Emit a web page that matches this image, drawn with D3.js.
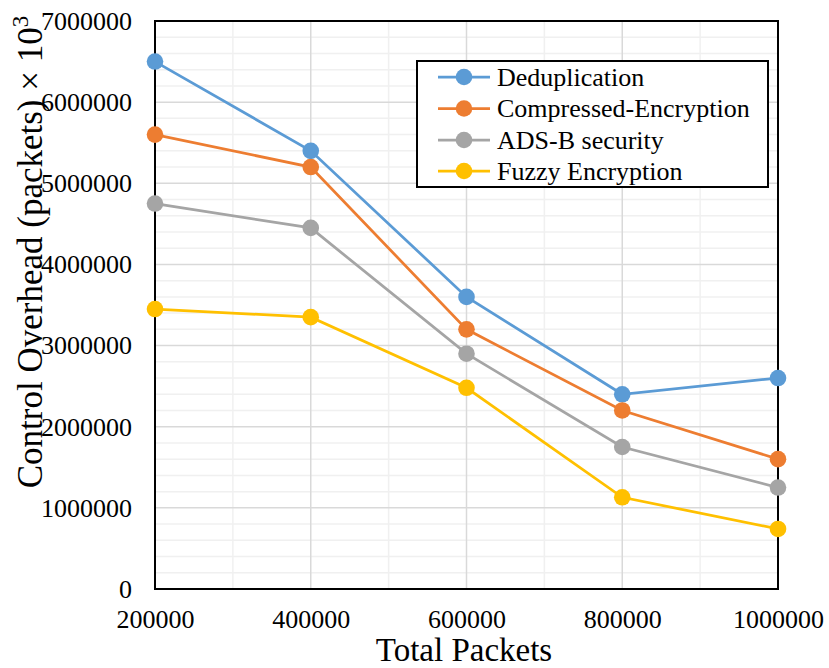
<!DOCTYPE html>
<html><head><meta charset="utf-8">
<script src="https://cdn.jsdelivr.net/npm/d3@7"></script>
<style>body{margin:0;background:#fff}svg{display:block}text{font-family:"Liberation Serif","Times New Roman",serif;fill:#000}</style>
</head><body>
<svg id="c" width="829" height="668"></svg>
<script>
const xValues = [200000, 400000, 600000, 800000, 1000000];
const dedup = [6500000, 5400000, 3600000, 2400000, 2600000];
const compressed = [5600000, 5200000, 3200000, 2200000, 1600000];
const adsb = [4750000, 4450000, 2900000, 1750000, 1250000];
const fuzzy = [3450000, 3350000, 2480000, 1130000, 740000];
const seriesNames = ["Deduplication", "Compressed-Encryption", "ADS-B security", "Fuzzy Encryption"];
const seriesColors = ["#5B9BD5", "#ED7D31", "#A5A5A5", "#FFC000"];
const yTicks = [0, 1000000, 2000000, 3000000, 4000000, 5000000, 6000000, 7000000];
const xTitle = "Total Packets";
const yTitle = "Control Overhead (packets) × 10";

const series = [dedup, compressed, adsb, fuzzy].map((v, i) => ({name: seriesNames[i], color: seriesColors[i], values: v}));

const svg = d3.select("#c");
const L = 155, R = 778, T = 21, B = 589;
const x = d3.scaleLinear().domain([200000, 1000000]).range([L, R]);
const y = d3.scaleLinear().domain([0, 7000000]).range([B, T]);

const g = svg.append("g");
// minor grid
const xMinor = d3.range(300000, 1000000, 200000);
const yMinor = d3.range(0, 7000001, 200000).filter(v => v % 1000000 !== 0);
g.selectAll(".ym").data(yMinor).join("line").attr("x1", L).attr("x2", R)
  .attr("y1", d => y(d)).attr("y2", d => y(d)).attr("stroke", "#f0f0f0").attr("stroke-width", 1.5);
g.selectAll(".xm").data(xMinor).join("line").attr("y1", T).attr("y2", B)
  .attr("x1", d => x(d)).attr("x2", d => x(d)).attr("stroke", "#f0f0f0").attr("stroke-width", 1.5);
// major grid
g.selectAll(".yM").data(yTicks).join("line").attr("x1", L).attr("x2", R)
  .attr("y1", d => y(d)).attr("y2", d => y(d)).attr("stroke", "#d9d9d9").attr("stroke-width", 1.5);
g.selectAll(".xM").data(xValues).join("line").attr("y1", T).attr("y2", B)
  .attr("x1", d => x(d)).attr("x2", d => x(d)).attr("stroke", "#d9d9d9").attr("stroke-width", 1.5);

// frame
svg.append("rect").attr("x", L).attr("y", T).attr("width", R - L).attr("height", B - T)
  .attr("fill", "none").attr("stroke", "#000").attr("stroke-width", 2);

// axes
const yAxis = d3.axisLeft(y).tickValues(yTicks).tickSize(0).tickPadding(23).tickFormat(d3.format("d"));
const ya = svg.append("g").attr("transform", `translate(${L},0)`).call(yAxis);
ya.select(".domain").remove();
ya.selectAll("text").attr("font-size", 26).style("font-family", '"Liberation Serif",serif').attr("fill", "#000");

const xAxis = d3.axisBottom(x).tickValues(xValues).tickSize(0).tickPadding(21).tickFormat(d3.format("d"));
const xa = svg.append("g").attr("transform", `translate(0,${B})`).call(xAxis);
xa.select(".domain").remove();
xa.selectAll("text").attr("font-size", 26).style("font-family", '"Liberation Serif",serif').attr("fill", "#000");

// lines
const line = d3.line().x((d, i) => x(xValues[i])).y(d => y(d));
series.forEach(s => {
  svg.append("path").datum(s.values).attr("d", line).attr("fill", "none")
    .attr("stroke", s.color).attr("stroke-width", 2.75);
});
series.forEach(s => {
  svg.selectAll(null).data(s.values).join("circle")
    .attr("cx", (d, i) => x(xValues[i])).attr("cy", d => y(d)).attr("r", 8.3).attr("fill", s.color);
});

// titles
svg.append("text").attr("x", 464).attr("y", 661).attr("text-anchor", "middle").attr("font-size", 33).text(xTitle);
const yt = svg.append("text").attr("transform", "translate(42,252) rotate(-90)").attr("text-anchor", "middle").attr("font-size", 35);
yt.append("tspan").text(yTitle);
yt.append("tspan").attr("font-size", 23).attr("dy", -14).text("3");

// legend
const lg = svg.append("g");
lg.append("rect").attr("x", 417).attr("y", 61).attr("width", 351).attr("height", 126)
  .attr("fill", "#fff").attr("stroke", "#000").attr("stroke-width", 2);
const rowY = [77, 108.5, 140, 171];
series.forEach((s, i) => {
  const r = lg.append("g").attr("transform", `translate(0,${rowY[i]})`);
  r.append("line").attr("x1", 438).attr("x2", 490).attr("stroke", s.color).attr("stroke-width", 2.75);
  r.append("circle").attr("cx", 464).attr("r", 8.3).attr("fill", s.color);
  r.append("text").attr("x", 497).attr("dy", "0.33em").attr("font-size", 26).text(s.name);
});
</script>
</body></html>
